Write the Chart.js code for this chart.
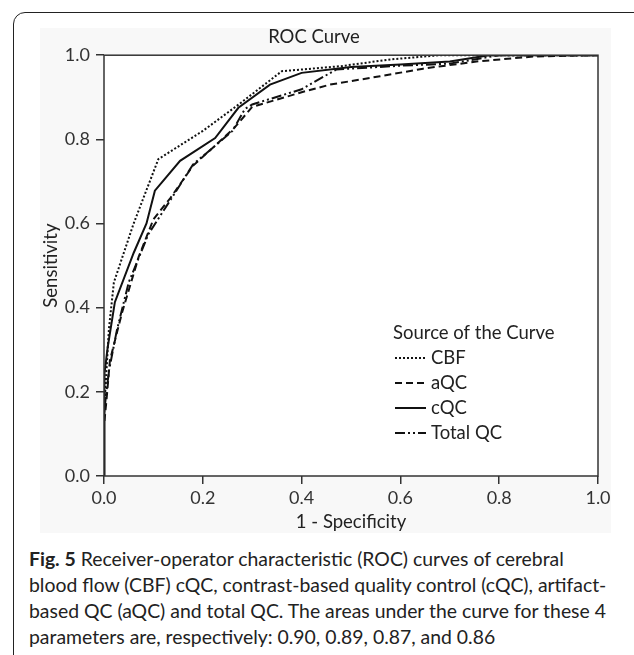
<!DOCTYPE html>
<html>
<head>
<meta charset="utf-8">
<title>ROC Curve</title>
<script src="https://cdn.jsdelivr.net/npm/chart.js@4.4.1/dist/chart.umd.min.js"></script>
<style>
  html, body { margin: 0; padding: 0; background: #fff; }
  body { width: 634px; height: 655px; position: relative; overflow: hidden; font-family: Lato, sans-serif; color: #222; }
  .frame { position: absolute; left: 13px; top: 12px; width: 640px; height: 700px; border: 1.5px solid #222; border-radius: 12px; }
  .panel { position: absolute; left: 40px; top: 28px; width: 571px; height: 505px; background: #f8f8f8; }
  .chart-box { position: absolute; left: 30px; top: 26px; width: 590px; height: 515px; }
  .caption { position: absolute; left: 29px; top: 546px; font-size: 19.4px; line-height: 26px; color: #222; white-space: nowrap; }
</style>
</head>
<body>
<div class="frame"></div>
<div class="panel"></div>
<div class="chart-box"><canvas id="rocChart"></canvas></div>
<div class="caption">
  <b>Fig. 5</b> Receiver-operator characteristic (ROC) curves of cerebral<br>
  blood flow (CBF) cQC, contrast-based quality control (cQC), artifact-<br>
  based QC (aQC) and total QC. The areas under the curve for these 4<br>
  parameters are, respectively: 0.90, 0.89, 0.87, and 0.86
</div>

<script>
// ============================================================
//  DONNÉES (1 - specificity / sensitivity)
// ============================================================
const axisTicks = [0.0, 0.2, 0.4, 0.6, 0.8, 1.0];

const cbfX = [0, 0, 0.005, 0.01, 0.02, 0.06, 0.11, 0.2, 0.275, 0.36, 0.48, 0.58, 0.68, 1];
const cbfY = [0, 0.15, 0.25, 0.35, 0.46, 0.6, 0.753, 0.82, 0.885, 0.962, 0.974, 0.99, 1.0, 1];

const aqcX = [0, 0, 0.005, 0.012, 0.036, 0.07, 0.1, 0.134, 0.18, 0.262, 0.3, 0.4, 0.457, 0.559, 0.646, 0.754, 0.87, 1];
const aqcY = [0, 0.12, 0.18, 0.275, 0.386, 0.52, 0.61, 0.66, 0.737, 0.825, 0.877, 0.912, 0.93, 0.95, 0.968, 0.985, 0.997, 1];

const cqcX = [0, 0, 0.002, 0.0075, 0.022, 0.06, 0.086, 0.103, 0.154, 0.225, 0.272, 0.336, 0.4, 0.5, 0.6, 0.7, 0.78, 1];
const cqcY = [0, 0.2, 0.244, 0.306, 0.413, 0.53, 0.6, 0.678, 0.749, 0.803, 0.875, 0.93, 0.958, 0.972, 0.978, 0.985, 1.0, 1];

const totX = [0, 0, 0.01, 0.026, 0.05, 0.09, 0.134, 0.18, 0.26, 0.285, 0.3, 0.4, 0.47, 0.6, 0.7, 0.8, 1];
const totY = [0, 0.15, 0.25, 0.346, 0.46, 0.575, 0.655, 0.74, 0.82, 0.872, 0.883, 0.919, 0.966, 0.975, 0.98, 1.0, 1];

const seriesNames = ['CBF', 'aQC', 'cQC', 'Total QC'];
const seriesDash  = [[2, 2], [7, 4], [], [10, 3, 2, 3, 2, 3]];

function toPoints(xs, ys) {
  return xs.map((x, i) => ({ x: x, y: ys[i] }));
}

const seriesData = [
  toPoints(cbfX, cbfY),
  toPoints(aqcX, aqcY),
  toPoints(cqcX, cqcY),
  toPoints(totX, totY)
];

// ============================================================
//  PLUGINS — fond blanc, cadre, légende intérieure
// ============================================================
const framePlugin = {
  id: 'frame',
  beforeDatasetsDraw(chart) {
    const { ctx, chartArea: a } = chart;
    ctx.save();
    ctx.fillStyle = '#fff';
    ctx.fillRect(a.left, a.top, a.right - a.left, a.bottom - a.top);
    ctx.restore();
  },
  afterDatasetsDraw(chart) {
    const { ctx, chartArea: a } = chart;
    ctx.save();
    ctx.strokeStyle = '#333';
    ctx.lineWidth = 1.5;
    ctx.strokeRect(a.left, a.top, a.right - a.left, a.bottom - a.top);
    ctx.restore();
  }
};

const legendPlugin = {
  id: 'innerLegend',
  afterDraw(chart) {
    const ctx = chart.ctx;
    const x0 = 363, y0 = 307, step = 25;
    ctx.save();
    ctx.fillStyle = '#222';
    ctx.font = '18.5px Lato, sans-serif';
    ctx.textBaseline = 'middle';
    ctx.fillText('Source of the Curve', x0, y0);
    chart.data.datasets.forEach((ds, i) => {
      const y = y0 + step * (i + 1);
      ctx.strokeStyle = '#111';
      ctx.lineWidth = 2;
      ctx.setLineDash(ds.borderDash);
      ctx.beginPath();
      ctx.moveTo(x0 + 2, y);
      ctx.lineTo(x0 + 33, y);
      ctx.stroke();
      ctx.setLineDash([]);
      ctx.fillText(ds.label, x0 + 38, y);
    });
    ctx.restore();
  }
};

// ============================================================
//  GRAPHIQUE
// ============================================================
const tickFont = { family: 'Lato', size: 18 };
const titleFont = { family: 'Lato', size: 18.5, weight: 'normal' };

new Chart(document.getElementById('rocChart').getContext('2d'), {
  type: 'scatter',
  data: {
    datasets: seriesNames.map((name, i) => ({
      label: name,
      data: seriesData[i],
      showLine: true,
      borderColor: '#111',
      borderWidth: 2,
      borderDash: seriesDash[i],
      pointRadius: 0,
      fill: false,
      tension: 0
    }))
  },
  options: {
    responsive: true,
    maintainAspectRatio: false,
    animation: false,
    layout: { padding: { left: 0, right: 22, top: 0, bottom: 0 } },
    plugins: {
      legend: { display: false },
      tooltip: { enabled: false },
      title: {
        display: true,
        text: 'ROC Curve',
        color: '#222',
        font: titleFont,
        padding: { top: 0, bottom: 7 }
      }
    },
    scales: {
      x: {
        type: 'linear',
        min: 0, max: 1,
        afterFit: (scale) => { scale.height = 65; },
        afterBuildTicks: (scale) => { scale.ticks = axisTicks.map((v) => ({ value: v })); },
        ticks: { font: tickFont, color: '#333', padding: 3, maxRotation: 0, callback: (v) => Number(v).toFixed(1) },
        grid: { drawOnChartArea: false, drawTicks: true, tickLength: 8, color: '#333', lineWidth: 1.5 },
        border: { display: false },
        title: { display: true, text: '1 - Specificity', color: '#222', font: titleFont, padding: { top: 0, bottom: 8 } }
      },
      y: {
        type: 'linear',
        min: 0, max: 1,
        afterFit: (scale) => { scale.width = 74; },
        afterBuildTicks: (scale) => { scale.ticks = axisTicks.map((v) => ({ value: v })); },
        ticks: { font: tickFont, color: '#333', padding: 6, callback: (v) => Number(v).toFixed(1) },
        grid: { drawOnChartArea: false, drawTicks: true, tickLength: 8, color: '#333', lineWidth: 1.5 },
        border: { display: false },
        title: { display: true, text: 'Sensitivity', color: '#222', font: titleFont, padding: { top: 10, bottom: 0 } }
      }
    }
  },
  plugins: [framePlugin, legendPlugin]
});
</script>
</body>
</html>
